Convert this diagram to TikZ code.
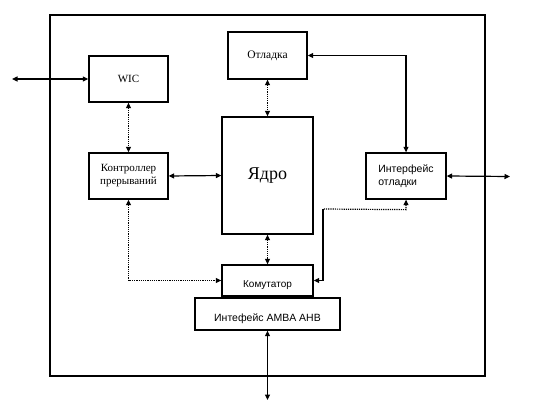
\documentclass[tikz,border=0pt]{standalone}
\usepackage{fontspec}
\setmainfont{Liberation Serif}
\newfontfamily\arialf{Liberation Sans}
\usetikzlibrary{arrows.meta}
\begin{document}
\begin{tikzpicture}[x=1pt,y=-1pt,
  blk/.style={draw,line width=1.3pt,inner sep=0pt,align=center},
  link/.style={line width=1.2pt,{Triangle[length=5.5pt,width=5pt]}-{Triangle[length=5.5pt,width=5pt]}},
  dlink/.style={link,densely dotted},
  jdot/.style={fill,circle,inner sep=0pt,minimum size=2.5pt}]
\useasboundingbox (0,0) rectangle (540,414);
% frame
\draw[line width=1.3pt] (50,15) rectangle (485,376);
% blocks
\node[blk,minimum width=79pt,minimum height=46pt,font=\fontsize{11}{13}\selectfont] (wic) at (128.5,79) {WIC};
\node[blk,minimum width=79pt,minimum height=47pt,font=\fontsize{11.5}{13}\selectfont] (dbg) at (267.5,55.5) {Отладка};
\node[blk,minimum width=91pt,minimum height=117pt,font=\fontsize{18}{20}\selectfont] (core) at (267.5,175.5) {Ядро};
\node[blk,minimum width=79pt,minimum height=46pt,font=\fontsize{11}{13}\selectfont] (irq) at (128.5,176) {Контроллер\\прерываний};
\node[blk,minimum width=80pt,minimum height=46pt,font=\arialf\fontsize{10.5}{13}\selectfont,align=left] (dif) at (406,176) {Интерфейс\\отладки};
\node[blk,minimum width=91pt,minimum height=31pt,font=\arialf\fontsize{10}{12}\selectfont,text height=16pt,text depth=2pt] (sw) at (267.5,280.5) {Комутатор};
\node[blk,minimum width=145pt,minimum height=32pt,font=\arialf\fontsize{10.5}{12}\selectfont,text height=17.5pt,text depth=2pt] (ahb) at (267.5,314) {Интефейс AMBA AHB};
% free ends
\coordinate (lend) at (12,79);
\coordinate (rend) at (510,176.5);
\coordinate (bend) at (267.5,400);
% connectors
\draw[link] (lend) -- (wic.west);
\node[jdot] (j1) at (50,79) {};
\draw[link] (dif.east) -- (rend);
\node[jdot] (j2) at (485,176.5) {};
\draw[link] (ahb.south) -- (bend);
\node[jdot] (j3) at (267.5,376) {};
\draw[dlink] (dbg.south) -- (core.north);
\draw[dlink] (wic.south) -- (irq.north);
\draw[link] (irq.east) -- (core.west);
\draw[dlink] (core.south) -- (sw.north);
\draw[link] (dbg.east) -| (dif.north);
\draw[dlink] (irq.south) |- (sw.west);
\draw[link,densely dotted,{Triangle[length=5.5pt,width=5pt]}-] (dif.south) -- ++(0,10) -- (323,209);
\draw[line width=1.2pt,-{Triangle[length=5.5pt,width=5pt]}] (323,209) |- (sw.east);
\end{tikzpicture}
\end{document}
